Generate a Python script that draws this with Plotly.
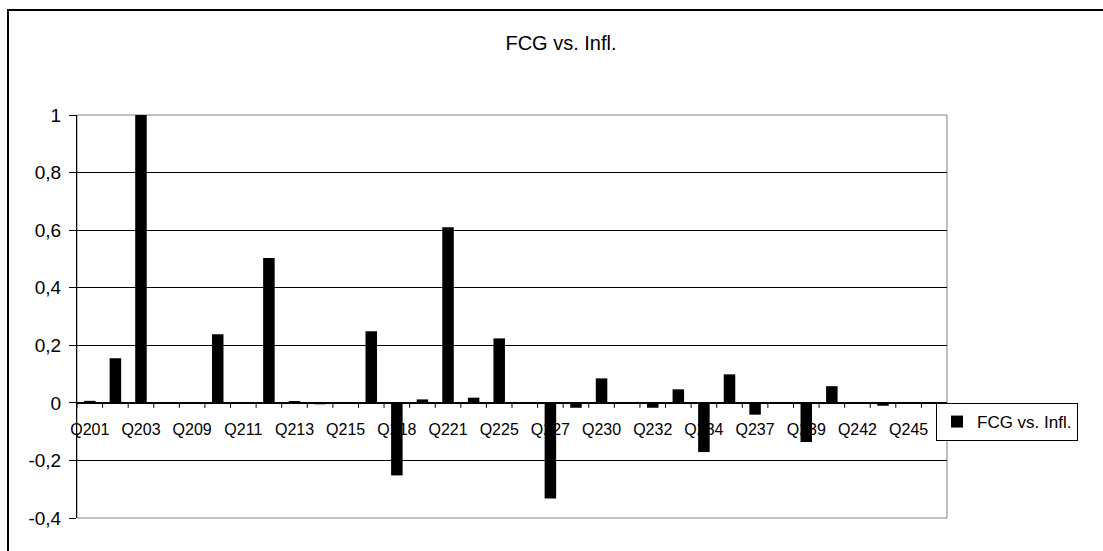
import plotly.graph_objects as go

categories = ["Q201", "Q202", "Q203", "Q208", "Q209", "Q210", "Q211", "Q212",
              "Q213", "Q214", "Q215", "Q217", "Q218", "Q220", "Q221", "Q224",
              "Q225", "Q226", "Q227", "Q229", "Q230", "Q231", "Q232", "Q233",
              "Q234", "Q236", "Q237", "Q238", "Q239", "Q241", "Q242", "Q244",
              "Q245", "Q246"]
values = [0.007, 0.155, 1.0, 0.0, 0.0, 0.238, 0.0, 0.503,
          0.005, -0.005, 0.0, 0.249, -0.252, 0.012, 0.61, 0.018,
          0.224, 0.0, -0.332, -0.017, 0.085, 0.0, -0.017, 0.047,
          -0.171, 0.099, -0.041, 0.0, -0.136, 0.058, 0.0, -0.01,
          0.0, 0.0]
shown_labels = ["Q201", "Q203", "Q209", "Q211", "Q213", "Q215", "Q218", "Q221",
                "Q225", "Q227", "Q230", "Q232", "Q234", "Q237", "Q239", "Q242", "Q245"]
y_ticks = [-0.4, -0.2, 0, 0.2, 0.4, 0.6, 0.8, 1]
y_ticktext = ["-0,4", "-0,2", "0", "0,2", "0,4", "0,6", "0,8", "1"]
series_name = "FCG vs. Infl."
title_text = "FCG vs. Infl."

idx = list(range(len(categories)))
shown_idx = [categories.index(c) for c in shown_labels]
boundaries = [i - 0.5 for i in range(len(categories) + 1)]

FONT = "Liberation Sans, Arial, sans-serif"
W, H = 1103, 551
L, R, T, B = 77, 156, 115, 33
ymin, ymax = -0.4, 1.0
plot_h = H - T - B
tick_len_data = 5 * (ymax - ymin) / plot_h  # 5 px category-boundary tick marks

fig = go.Figure()
fig.add_trace(go.Bar(
    x=idx, y=values, name=series_name,
    marker=dict(color="black", line=dict(width=0)),
    width=0.45, showlegend=True,
))
# category-boundary tick marks on the zero axis
fig.add_trace(go.Scatter(
    x=boundaries, y=[0] * len(boundaries), mode="markers",
    marker=dict(size=1, color="rgba(0,0,0,0)"),
    error_y=dict(type="data", symmetric=False, array=[0] * len(boundaries),
                 arrayminus=[tick_len_data] * len(boundaries),
                 color="black", thickness=1, width=0),
    showlegend=False, hoverinfo="skip", cliponaxis=False,
))

zero_pos = (0 - ymin) / (ymax - ymin)
xr = [-0.5, len(categories) - 0.5]

fig.update_layout(
    width=W, height=H,
    margin=dict(l=L, r=R, t=T, b=B, pad=0),
    paper_bgcolor="white", plot_bgcolor="white",
    font=dict(family=FONT, color="black"),
    title=dict(text=title_text, x=0.5086, xref="container", xanchor="center",
               y=1 - 43 / H, yref="container", yanchor="middle",
               font=dict(size=20, family=FONT, color="black")),
    showlegend=True,
    legend=dict(x=(936 - L) / (W - L - R), y=(H - B - 403) / plot_h,
                xanchor="left", yanchor="top",
                bordercolor="black", borderwidth=1, bgcolor="white",
                font=dict(size=17, family=FONT, color="black"),
                itemwidth=30, tracegroupgap=0),
    xaxis=dict(
        range=xr,
        tickmode="array", tickvals=shown_idx, ticktext=shown_labels,
        ticks="outside", ticklen=5, tickcolor="rgba(0,0,0,0)",
        ticklabelstandoff=7,
        tickfont=dict(size=16, family=FONT, color="black"),
        showgrid=False, zeroline=False,
        showline=True, linecolor="black", linewidth=1,
        anchor="free", position=zero_pos,
        layer="below traces",
    ),
    yaxis=dict(
        range=[ymin, ymax],
        tickmode="array", tickvals=y_ticks, ticktext=y_ticktext,
        ticks="outside", ticklen=7, tickcolor="black", tickwidth=1,
        ticklabelstandoff=4,
        tickfont=dict(size=19, family=FONT, color="black"),
        showgrid=True, gridcolor="black", gridwidth=1,
        zeroline=False,
        showline=True, linecolor="black", linewidth=1,
    ),
    bargap=0.55,
    shapes=[
        dict(type="rect", xref="x domain", yref="y domain", x0=0, x1=1, y0=0, y1=1,
             line=dict(color="#808080", width=1), fillcolor="rgba(0,0,0,0)", layer="below"),
        dict(type="rect", xref="paper", yref="paper",
             x0=(8 - L) / (W - L - R), x1=(W + 10 - L) / (W - L - R),
             y0=(H - B - (H + 10)) / plot_h, y1=(H - B - 10) / plot_h,
             line=dict(color="black", width=2), fillcolor="rgba(0,0,0,0)", layer="above"),
    ],
)

fig.write_html("out.html", config={"displayModeBar": False},
               post_script="document.body.style.margin='0';document.body.style.overflow='hidden';")
